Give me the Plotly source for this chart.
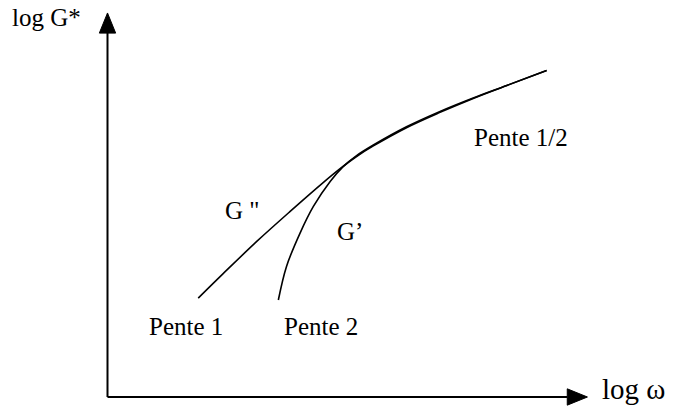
import plotly.graph_objects as go

# Loss modulus G'' versus frequency (log-log, arbitrary units)
g2_logw = [1.89, 2.41, 3.11, 3.80, 4.50, 4.84, 5.19, 5.54, 6.23, 6.93, 7.62, 8.32, 9.15]
g2_logg = [2.06, 2.57, 3.24, 3.86, 4.47, 4.75, 5.01, 5.23, 5.61, 5.93, 6.22, 6.49, 6.80]

# Storage modulus G' versus frequency
g1_logw = [3.56, 3.73, 4.01, 4.29, 4.64, 4.91, 5.19, 5.54, 6.23, 6.93, 7.62, 8.32, 9.15]
g1_logg = [2.02, 2.72, 3.41, 3.97, 4.49, 4.80, 5.03, 5.25, 5.63, 5.95, 6.23, 6.49, 6.80]

# Axis extents (arrow tips)
x_max = 10.0
y_max = 8.0
x_view = [-2.24, 11.95]
y_view = [-0.25, 8.27]

# Arrowhead size in axis units
head_len = 0.42
head_half = 0.17

font_family = "Times New Roman, Liberation Serif, serif"

fig = go.Figure()

line_style = dict(color="black", width=1.6, shape="spline", smoothing=1.0)
fig.add_trace(go.Scatter(x=g2_logw, y=g2_logg, mode="lines", line=line_style,
                         name="G''", hoverinfo="skip"))
fig.add_trace(go.Scatter(x=g1_logw, y=g1_logg, mode="lines", line=line_style,
                         name="G'", hoverinfo="skip"))

# Axes drawn as arrows
axis_line = dict(color="black", width=2)
fig.add_shape(type="line", x0=0, y0=0, x1=x_max - head_len, y1=0, line=axis_line)
fig.add_shape(type="line", x0=0, y0=0, x1=0, y1=y_max - head_len, line=axis_line)
fig.add_shape(type="path",
              path=f"M {x_max} 0 L {x_max - head_len} {head_half} L {x_max - head_len} {-head_half} Z",
              fillcolor="black", line=dict(color="black", width=1))
fig.add_shape(type="path",
              path=f"M 0 {y_max} L {head_half} {y_max - head_len} L {-head_half} {y_max - head_len} Z",
              fillcolor="black", line=dict(color="black", width=1))

labels = [
    ("log G*", -2.03, 7.90, 25),
    ("Pente 1/2", 7.60, 5.40, 25),
    ("G \"", 2.41, 3.88, 25),
    ("G’", 4.74, 3.44, 25),
    ("Pente 1", 0.82, 1.46, 25),
    ("Pente 2", 3.64, 1.46, 25),
    ("log ω", 10.26, 0.17, 29),
]
for text, x, y, size in labels:
    fig.add_annotation(x=x, y=y, text=text, showarrow=False, xanchor="left", yanchor="middle",
                       font=dict(family=font_family, size=size, color="black"))

fig.update_layout(
    width=681, height=409,
    margin=dict(l=0, r=0, t=0, b=0),
    paper_bgcolor="white", plot_bgcolor="white",
    showlegend=False,
    xaxis=dict(range=x_view, visible=False, fixedrange=True),
    yaxis=dict(range=y_view, visible=False, fixedrange=True),
)

fig.write_html("out.html", config={"displayModeBar": False})
